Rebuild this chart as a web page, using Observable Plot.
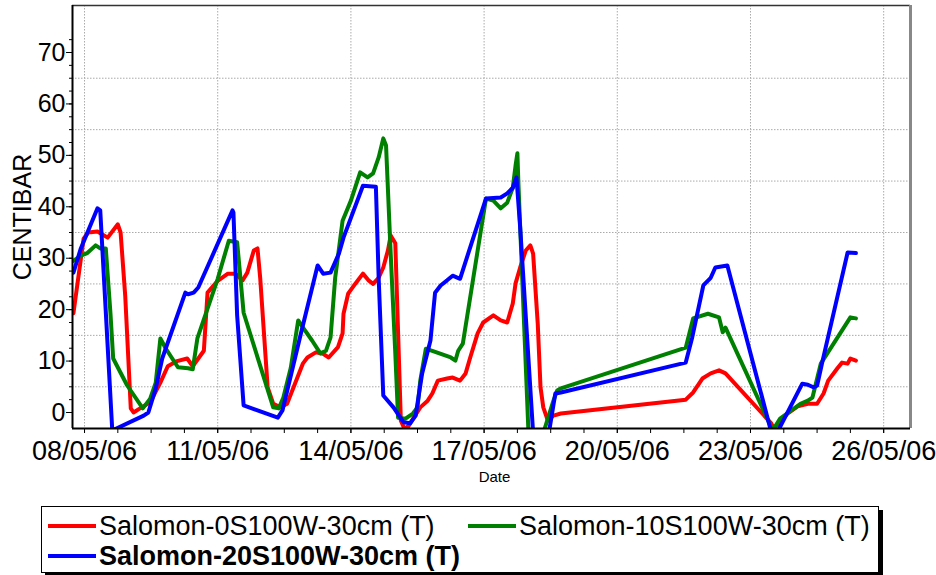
<!DOCTYPE html>
<html>
<head>
<meta charset="utf-8">
<script src="https://cdn.jsdelivr.net/npm/d3@7"></script>
<script src="https://cdn.jsdelivr.net/npm/@observablehq/plot@0.6"></script>
<style>
  html, body { margin: 0; padding: 0; background: #fff; }
  #wrap { position: relative; width: 936px; height: 575px; font-family: "Liberation Sans", Arial, sans-serif; }
  #legend { position: absolute; left: 41px; top: 506px; width: 836px; height: 65px; border: 1px solid #000; box-shadow: 4px 4px 0 #000; background: #fff; }
  .item { position: absolute; display: flex; align-items: center; height: 30px; font-size: 27px; color: #000; white-space: nowrap; }
  .sw { width: 48px; height: 4px; margin-right: 3px; }
</style>
</head>
<body>
<div id="wrap">
  <div id="chart"></div>
  <div id="legend"></div>
</div>
<script>
// ---- data (time, centibar) ----
const seriesNames = ["Salomon-0S100W-30cm (T)", "Salomon-10S100W-30cm (T)", "Salomon-20S100W-30cm (T)"];
const seriesColors = ["#ff0000", "#008000", "#0000ff"];

const red0S = [
["2006-05-07T18:00",19.3],["2006-05-07T23:30",33.8],["2006-05-08T02:00",35],["2006-05-08T07:00",35.2],
["2006-05-08T12:30",34],["2006-05-08T18:00",36.6],["2006-05-08T19:30",35],["2006-05-08T22:00",22.7],
["2006-05-09T01:00",0.8],["2006-05-09T02:30",0],["2006-05-09T06:00",0.8],["2006-05-09T11:30",2],
["2006-05-09T17:00",5.8],["2006-05-09T21:00",9],["2006-05-10T02:00",10],["2006-05-10T07:30",10.5],
["2006-05-10T10:30",9],["2006-05-10T16:30",12],["2006-05-10T18:30",23.3],["2006-05-11T00:00",25.6],
["2006-05-11T05:30",27],["2006-05-11T09:30",27],["2006-05-11T13:30",25.7],["2006-05-11T16:00",27.2],
["2006-05-11T19:30",31.5],["2006-05-11T21:30",31.9],["2006-05-11T23:00",26],["2006-05-12T03:00",4.9],
["2006-05-12T06:00",1.7],["2006-05-12T10:00",1],["2006-05-12T13:30",1.7],["2006-05-12T17:00",4.9],
["2006-05-12T22:00",9.5],["2006-05-13T00:30",10.7],["2006-05-13T05:00",11.7],["2006-05-13T09:00",11.4],
["2006-05-13T12:00",10.7],["2006-05-13T17:00",12.7],["2006-05-13T19:30",15.4],["2006-05-13T20:00",19.2],
["2006-05-13T22:30",23.1],["2006-05-14T02:30",25.1],["2006-05-14T06:30",27],["2006-05-14T09:30",25.7],
["2006-05-14T12:00",25],["2006-05-14T15:00",26.2],["2006-05-14T17:30",28.2],["2006-05-14T20:00",31.5],
["2006-05-14T21:30",34.4],["2006-05-15T00:00",32.9],["2006-05-15T03:00",-1.6],["2006-05-15T04:30",-2.8],
["2006-05-15T06:30",-3],["2006-05-15T10:00",-1],["2006-05-15T13:30",1],["2006-05-15T17:30",2.3],
["2006-05-15T20:00",3.7],["2006-05-15T23:00",6.2],["2006-05-16T04:00",6.6],["2006-05-16T07:00",6.8],
["2006-05-16T11:00",6.2],["2006-05-16T14:00",7.6],["2006-05-16T16:30",10.7],["2006-05-16T20:30",15.4],
["2006-05-16T23:30",17.5],["2006-05-17T05:00",18.9],["2006-05-17T09:00",17.9],["2006-05-17T12:30",17.5],
["2006-05-17T15:30",21.2],["2006-05-17T17:00",25.1],["2006-05-17T19:30",28.2],["2006-05-17T22:30",31.5],
["2006-05-18T01:00",32.5],["2006-05-18T02:30",30.9],["2006-05-18T05:00",17.3],["2006-05-18T06:30",4.9],
["2006-05-18T08:00",1],["2006-05-18T10:30",-1.6],["2006-05-18T13:30",-0.6],["2006-05-18T17:30",-0.2],
["2006-05-21T13:00",2.5],["2006-05-21T17:00",3.9],["2006-05-21T22:00",6.6],["2006-05-22T02:30",7.6],
["2006-05-22T07:00",8.2],["2006-05-22T10:30",7.6],["2006-05-23T11:00",-2],["2006-05-23T12:30",-3],
["2006-05-23T16:00",-2],["2006-05-23T20:00",-0.2],["2006-05-24T01:30",1.2],["2006-05-24T07:00",1.7],
["2006-05-24T12:00",1.7],["2006-05-24T15:30",3.7],["2006-05-24T18:00",6.2],["2006-05-24T23:00",8.6],
["2006-05-25T01:30",9.7],["2006-05-25T04:30",9.5],["2006-05-25T06:00",10.5],["2006-05-25T09:00",10.1]
];

const green10S = [
["2006-05-07T18:00",29.5],["2006-05-07T22:00",30.5],["2006-05-08T01:30",31],["2006-05-08T06:00",32.5],
["2006-05-08T08:30",31.9],["2006-05-08T11:30",31.9],["2006-05-08T14:00",19.4],["2006-05-08T15:30",10.5],
["2006-05-08T23:00",5.3],["2006-05-09T07:30",0.8],["2006-05-09T11:30",2.7],["2006-05-09T14:30",5.8],
["2006-05-09T17:00",14.4],["2006-05-09T20:00",12.4],["2006-05-10T02:30",8.8],["2006-05-10T08:00",8.6],
["2006-05-10T10:30",8.4],["2006-05-10T13:00",14.4],["2006-05-11T00:00",26],["2006-05-11T06:00",33.4],
["2006-05-11T10:30",33.1],["2006-05-11T14:00",19.4],["2006-05-12T06:00",1],["2006-05-12T09:00",0.8],
["2006-05-12T11:30",2.9],["2006-05-12T15:30",8.7],["2006-05-12T19:30",17.9],["2006-05-12T22:30",16.3],
["2006-05-13T03:00",14],["2006-05-13T07:30",11.5],["2006-05-13T10:30",12],["2006-05-13T13:00",14.6],
["2006-05-13T15:30",26.2],["2006-05-13T19:30",37.3],["2006-05-14T00:00",41.2],["2006-05-14T05:00",46.7],
["2006-05-14T09:00",45.7],["2006-05-14T12:00",46.5],["2006-05-14T15:00",49.6],["2006-05-14T17:30",53.3],
["2006-05-14T19:00",51.9],["2006-05-14T21:30",30.9],["2006-05-15T00:00",11.5],["2006-05-15T01:30",-1],
["2006-05-15T05:30",-1.2],["2006-05-15T09:30",-0.2],["2006-05-15T12:00",1],["2006-05-15T13:30",6.2],
["2006-05-15T16:30",12.4],["2006-05-15T20:00",12],["2006-05-16T06:00",10.7],["2006-05-16T08:30",10.1],
["2006-05-16T10:00",12],["2006-05-16T12:30",13.4],["2006-05-17T01:00",41.6],["2006-05-17T05:00",41.2],
["2006-05-17T09:00",39.7],["2006-05-17T12:30",40.8],["2006-05-17T15:30",43.7],["2006-05-17T17:00",48],
["2006-05-17T18:00",50.4],["2006-05-17T18:30",45],["2006-05-18T00:00",-4],["2006-05-18T08:00",-4],
["2006-05-18T13:30",2.3],["2006-05-18T15:30",4.3],["2006-05-18T17:30",4.7],["2006-05-21T13:00",12.6],
["2006-05-21T17:00",18.3],["2006-05-22T01:00",19.2],["2006-05-22T07:00",18.5],["2006-05-22T09:00",15.6],
["2006-05-22T10:30",16.5],["2006-05-23T12:00",-3.5],["2006-05-23T16:00",-1.2],["2006-05-23T20:30",0],
["2006-05-24T03:00",1.7],["2006-05-24T07:00",2.3],["2006-05-24T09:30",2.9],["2006-05-24T14:00",9.5],
["2006-05-25T06:00",18.5],["2006-05-25T09:00",18.3]
];

const blue20S = [
["2006-05-07T18:00",27.2],["2006-05-07T22:00",31.9],["2006-05-08T07:00",39.7],["2006-05-08T08:30",39.3],
["2006-05-08T15:00",-3.5],["2006-05-09T08:00",-0.6],["2006-05-09T10:30",0],["2006-05-09T14:30",4.7],
["2006-05-09T18:00",10.5],["2006-05-10T06:30",23.3],["2006-05-10T08:00",23.0],["2006-05-10T11:00",23.3],
["2006-05-10T13:30",24.3],["2006-05-11T08:00",39.3],["2006-05-11T08:30",38.9],["2006-05-11T10:30",18.9],
["2006-05-11T14:00",1.4],["2006-05-12T08:30",-1],["2006-05-12T11:00",0.4],["2006-05-12T21:00",15.4],
["2006-05-13T06:00",28.6],["2006-05-13T09:00",27],["2006-05-13T13:00",27.2],["2006-05-13T17:30",30.9],
["2006-05-13T20:00",34],["2006-05-14T06:30",44.1],["2006-05-14T13:30",43.9],["2006-05-14T15:00",26.2],
["2006-05-14T17:30",3.3],["2006-05-14T23:00",1],["2006-05-15T04:30",-1.9],["2006-05-15T08:00",-2.1],
["2006-05-15T11:00",-0.6],["2006-05-15T14:30",7.6],["2006-05-15T19:00",14],["2006-05-15T21:30",23.3],
["2006-05-16T00:30",24.7],["2006-05-16T04:00",25.7],["2006-05-16T07:00",26.6],["2006-05-16T11:00",26],
["2006-05-17T01:00",41.6],["2006-05-17T09:00",41.8],["2006-05-17T12:30",42.6],["2006-05-17T15:30",43.7],
["2006-05-17T17:30",45.7],["2006-05-17T19:30",36],["2006-05-18T02:30",-4],["2006-05-18T11:00",-4],
["2006-05-18T14:30",3.7],["2006-05-18T17:30",3.9],["2006-05-21T13:00",9.7],["2006-05-21T16:30",14.6],
["2006-05-21T22:30",24.7],["2006-05-22T02:30",26.2],["2006-05-22T05:00",28.2],["2006-05-22T11:30",28.6],
["2006-05-23T11:00",-3.5],["2006-05-23T15:00",-3.5],["2006-05-24T04:00",5.6],["2006-05-24T07:00",5.4],
["2006-05-24T10:00",4.9],["2006-05-24T12:00",5.2],["2006-05-24T15:00",10.1],["2006-05-25T04:30",31.1],
["2006-05-25T09:00",31]
];

// ---- axis ticks ----
const xTickLabels = ["2006-05-08","2006-05-11","2006-05-14","2006-05-17","2006-05-20","2006-05-23","2006-05-26"];
const yMajorTicks = [0,10,20,30,40,50,60,70];
const yGridLines = [5,15,25,35,45,55,65];

const parse = s => new Date(s.length === 10 ? s + "T00:00:00Z" : s + ":00Z");
const xTicks = xTickLabels.map(parse);
const xStart = parse("2006-05-07T17:30"), xEnd = parse("2006-05-26T14:30");
const yMin = -3.11, yMax = 79.14;
const xMinor = d3.range(0, 25).map(k => new Date(+xTicks[0] + k * 18 * 3600e3));
const yMinor = d3.range(0, 72.6, 2.5);

const allSeries = [red0S, green10S, blue20S];
const lineMarks = allSeries.map((s, i) => Plot.line(s, {
  x: d => parse(d[0]), y: d => d[1],
  stroke: seriesColors[i], strokeWidth: 4, strokeLinejoin: "round", strokeLinecap: "round", clip: true
}));

const chart = Plot.plot({
  width: 936, height: 495,
  marginLeft: 72, marginRight: 26, marginTop: 5, marginBottom: 67,
  style: { fontFamily: "Liberation Sans, Arial, sans-serif", color: "#000", background: "#fff" },
  x: { type: "utc", domain: [xStart, xEnd] },
  y: { domain: [yMin, yMax] },
  marks: [
    Plot.ruleY(yGridLines, { stroke: "#aaa", strokeDasharray: "1.5,1.5" }),
    Plot.ruleX(xTicks, { stroke: "#aaa", strokeDasharray: "1.5,1.5" }),
    ...lineMarks,
    Plot.axisY(yMinor, { tickSize: 3, tickFormat: () => "", label: null }),
    Plot.axisY(yMajorTicks, { tickSize: 6, tickPadding: 1, fontSize: 25, tickFormat: d => String(d), label: null }),
    Plot.axisX(xMinor, { tickSize: 5, tickFormat: () => "", label: null }),
    Plot.axisX(xTicks, { tickSize: 5, tickPadding: 7, fontSize: 27, tickFormat: d3.utcFormat("%d/%m/%y"), label: null }),
    Plot.ruleY([yMax], { stroke: "#333", strokeWidth: 1.5 }),
    Plot.ruleX([xEnd], { stroke: "#888", strokeWidth: 3 }),
    Plot.ruleX([xStart], { stroke: "#000", strokeWidth: 2 }),
    Plot.ruleY([yMin], { stroke: "#000", strokeWidth: 2 }),
    Plot.text(["CENTIBAR"], { frameAnchor: "left", dx: -50, rotate: -90, textAnchor: "middle", lineAnchor: "middle", fontSize: 25, fill: "#000" }),
    Plot.text(["Date"], { frameAnchor: "bottom", dx: 3, dy: 49, textAnchor: "middle", lineAnchor: "middle", fontSize: 15, fill: "#000" })
  ]
});
document.getElementById("chart").appendChild(chart);

// ---- legend ----
const legend = document.getElementById("legend");
const pos = [[6, 4, false], [426, 4, false], [6, 34, true]];
seriesNames.forEach((name, i) => {
  const it = document.createElement("div");
  it.className = "item";
  it.style.left = pos[i][0] + "px";
  it.style.top = pos[i][1] + "px";
  if (pos[i][2]) it.style.fontWeight = "bold";
  const sw = document.createElement("div");
  sw.className = "sw";
  sw.style.background = seriesColors[i];
  const tx = document.createElement("span");
  tx.textContent = name;
  it.appendChild(sw); it.appendChild(tx);
  legend.appendChild(it);
});
</script>
</body>
</html>
